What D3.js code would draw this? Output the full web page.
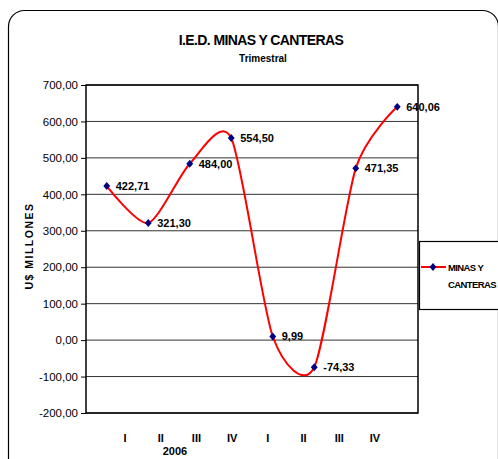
<!DOCTYPE html>
<html><head><meta charset="utf-8">
<script src="https://cdn.jsdelivr.net/npm/d3@7"></script>
<style>body{margin:0;background:#fff}svg{display:block;font-family:"Liberation Sans",Arial,sans-serif}</style>
</head><body>
<svg id="c" width="498" height="459"></svg>
<script>
const categories = ["2006-I","2006-II","2006-III","2006-IV","2007-I","2007-II","2007-III","2007-IV"];
const quarterLabels = ["I","II","III","IV","I","II","III","IV"];
const values = [422.71, 321.30, 484.00, 554.50, 9.99, -74.33, 471.35, 640.06];
const yTicks = [700,600,500,400,300,200,100,0,-100,-200];
const yearLabel = "2006";
const seriesName = ["MINAS Y","CANTERAS"];
const title = "I.E.D. MINAS Y CANTERAS";
const subtitle = "Trimestral";
const yTitle = "U$ MILLONES";

const svg = d3.select("#c");
const fmt = v => (v < 0 ? "-" : "") + d3.format(".2f")(Math.abs(v)).replace(".", ",");

// outer rounded border
svg.append("rect").attr("x",8.5).attr("y",10.5).attr("width",490).attr("height",470)
  .attr("rx",16).attr("fill","none").attr("stroke","#000").attr("stroke-width",1.2);

const L = 86, R = 418, T = 85, B = 413;
const x = d3.scaleBand().domain(categories).range([L, R]);
const y = d3.scaleLinear().domain([-200, 700]).range([B, T]);

// gridlines
svg.append("g").selectAll("line").data(yTicks).join("line")
  .attr("x1", L).attr("x2", R).attr("y1", d => y(d)).attr("y2", d => y(d))
  .attr("stroke", "#333").attr("stroke-width", 1);

// plot border
svg.append("rect").attr("x",L).attr("y",T).attr("width",R-L).attr("height",B-T)
  .attr("fill","none").attr("stroke","#000").attr("stroke-width",1.5);

// y axis
const yAxis = d3.axisLeft(y).tickValues(yTicks).tickSize(5).tickFormat(fmt);
const gy = svg.append("g").attr("transform", `translate(${L},0)`).call(yAxis);
gy.select(".domain").remove();
gy.selectAll("text").attr("font-size", 11.5).attr("fill","#000").attr("x",-8)
  .attr("font-family","'Liberation Sans',Arial,sans-serif");
gy.selectAll("line").attr("stroke","#000");

// x labels (offset as in the original)
const xl = d3.scalePoint().domain(d3.range(quarterLabels.length)).range([125, 375]);
svg.append("g").selectAll("text").data(quarterLabels).join("text")
  .attr("x", (d,i) => xl(i)).attr("y", 442).attr("text-anchor","middle")
  .attr("font-size", 11).attr("font-weight","bold").text(d => d);
svg.append("text").attr("x", 175).attr("y", 455).attr("text-anchor","middle")
  .attr("font-size", 11).attr("font-weight","bold").text(yearLabel);

// titles
svg.append("text").attr("x", 261).attr("y", 45).attr("text-anchor","middle")
  .attr("font-size", 14).attr("font-weight","bold").attr("letter-spacing",-0.6).text(title);
svg.append("text").attr("x", 263).attr("y", 62).attr("text-anchor","middle")
  .attr("font-size", 10).attr("font-weight","bold").text(subtitle);
svg.append("text").attr("transform","translate(33,246) rotate(-90)").attr("text-anchor","middle")
  .attr("font-size", 10.5).attr("font-weight","bold").attr("letter-spacing",1.5).text(yTitle);

// line
const cx = c => x(c) + x.bandwidth()/2;
const line = d3.line().x((d,i) => cx(categories[i])).y(d => y(d)).curve(d3.curveCardinal.tension(0.25));
svg.append("path").datum(values).attr("d", line).attr("fill","none")
  .attr("stroke","#ff0000").attr("stroke-width",2);

const diamond = d3.symbol().type(d3.symbolDiamond2).size(30);
svg.append("g").selectAll("path").data(values).join("path")
  .attr("d", diamond).attr("transform",(d,i)=>`translate(${cx(categories[i])},${y(d)}) scale(1,1.15)`)
  .attr("fill","#000080");
svg.append("g").selectAll("text").data(values).join("text")
  .attr("x",(d,i)=>cx(categories[i])+9).attr("y",d=>y(d)+4)
  .attr("font-size",11).attr("font-weight","bold").text(d=>fmt(d));

// legend
svg.append("rect").attr("x",419.5).attr("y",241.5).attr("width",90).attr("height",68)
  .attr("fill","#fff").attr("stroke","#000").attr("stroke-width",1.2);
svg.append("line").attr("x1",421).attr("x2",446).attr("y1",267).attr("y2",267)
  .attr("stroke","#ff0000").attr("stroke-width",2);
svg.append("path").attr("d",diamond).attr("transform","translate(433,267) scale(1,1.15)").attr("fill","#000080");
svg.selectAll(".lg").data(seriesName).join("text").attr("class","lg")
  .attr("x",448).attr("y",(d,i)=>271+i*17).attr("font-size",9.5).attr("font-weight","bold")
  .attr("letter-spacing",-0.6).text(d=>d);
</script>
</body></html>
